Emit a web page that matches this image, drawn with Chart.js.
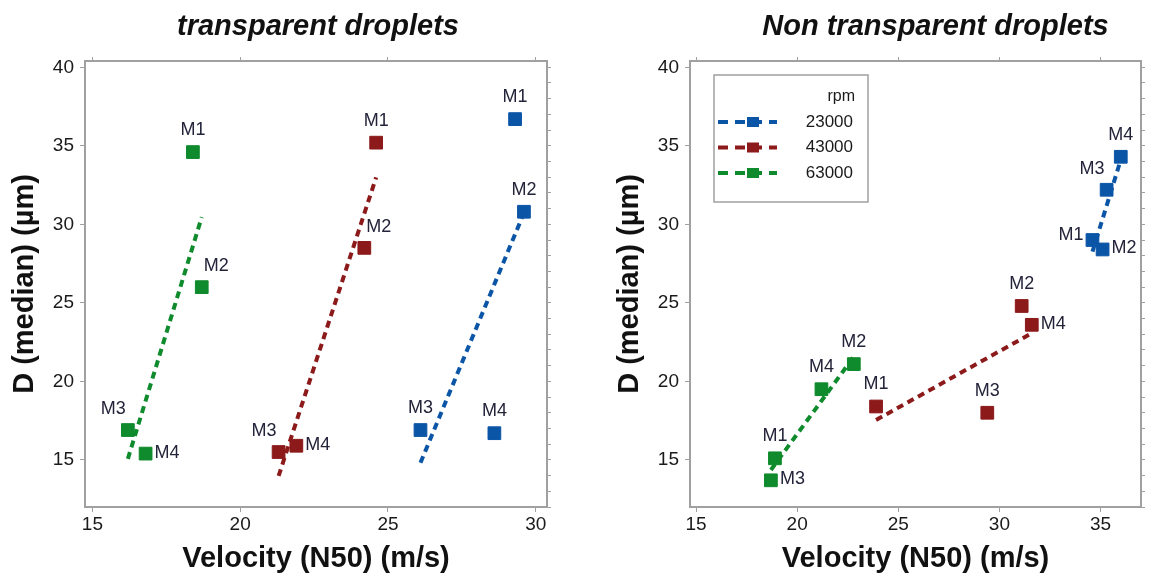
<!DOCTYPE html>
<html>
<head>
<meta charset="utf-8">
<script src="https://cdn.jsdelivr.net/npm/chart.js@4.4.1/dist/chart.umd.min.js"></script>
<style>
  html, body { margin: 0; padding: 0; background: #fff; }
  body { width: 1151px; height: 577px; position: relative; overflow: hidden; }
  .box { position: absolute; top: 0; height: 577px; }
  #boxLeft { left: 0; width: 575px; }
  #boxRight { left: 605px; width: 546px; }
</style>
</head>
<body>
<div class="box" id="boxLeft"><canvas id="chartLeft"></canvas></div>
<div class="box" id="boxRight"><canvas id="chartRight"></canvas></div>
<script>
"use strict";

const pointNames = ['M1', 'M2', 'M3', 'M4'];
const rpmLabels = ['23000', '43000', '63000'];
const rpmColors = ['#0b55a7', '#8c1a1a', '#0f8a2c'];

// transparent droplets
const transVel23000 = [29.3, 29.6, 26.1, 28.6];
const transD23000   = [36.7, 30.8, 16.9, 16.7];
const transVel43000 = [24.6, 24.2, 21.3, 21.9];
const transD43000   = [35.2, 28.5, 15.5, 15.9];
const transVel63000 = [18.4, 18.7, 16.2, 16.8];
const transD63000   = [34.6, 26.0, 16.9, 15.4];

// non transparent droplets
const nonVel23000 = [34.6, 35.1, 35.3, 36.0];
const nonD23000   = [29.0, 28.4, 32.2, 34.3];
const nonVel43000 = [23.9, 31.1, 29.4, 31.6];
const nonD43000   = [18.4, 24.8, 18.0, 23.6];
const nonVel63000 = [18.9, 22.8, 18.7, 21.2];
const nonD63000   = [15.1, 21.1, 13.7, 19.5];

const xTicksLeft = [15, 20, 25, 30];
const xTicksRight = [15, 20, 25, 30, 35];
const yTicks = [15, 20, 25, 30, 35, 40];

// where each M label sits around its point
const transPlace23000 = ['top', 'top', 'top', 'top'];
const transPlace43000 = ['top', 'topright', 'topleft', 'right'];
const transPlace63000 = ['top', 'topright', 'topleft', 'right'];
const nonPlace23000 = ['left', 'right', 'topleft', 'top'];
const nonPlace43000 = ['top', 'top', 'top', 'right'];
const nonPlace63000 = ['top', 'top', 'right', 'top'];

const FONT = '"Liberation Sans", Arial, sans-serif';
const TEXT = '#1a1a1a';
const FRAME = '#a0a0a0';

Chart.defaults.font.family = FONT;

const labelOffsets = {
  top:      { dx: 0,  dy: -22, align: 'center' },
  right:    { dx: 9,  dy: -1,  align: 'left' },
  left:     { dx: -9, dy: -5,  align: 'right' },
  topright: { dx: 2,  dy: -21, align: 'left' },
  topleft:  { dx: -2, dy: -21, align: 'right' }
};

// least squares line over the x range of the points
const fitLine = (xs, ys) => {
  const n = xs.length;
  const mx = xs.reduce((a, b) => a + b, 0) / n;
  const my = ys.reduce((a, b) => a + b, 0) / n;
  let sxy = 0, sxx = 0;
  xs.forEach((x, i) => { sxy += (x - mx) * (ys[i] - my); sxx += (x - mx) ** 2; });
  const slope = sxy / sxx;
  const x0 = Math.min(...xs), x1 = Math.max(...xs);
  return [{ x: x0, y: my + slope * (x0 - mx) }, { x: x1, y: my + slope * (x1 - mx) }];
};

const pointLabels = {
  id: 'pointLabels',
  afterDatasetsDraw(chart) {
    const ctx = chart.ctx;
    ctx.save();
    ctx.font = '18px ' + FONT;
    ctx.fillStyle = '#23233a';
    ctx.textBaseline = 'middle';
    chart.data.datasets.forEach((ds, i) => {
      if (!ds.names) return;
      chart.getDatasetMeta(i).data.forEach((pt, j) => {
        const o = labelOffsets[ds.place[j]];
        ctx.textAlign = o.align;
        ctx.fillText(ds.names[j], pt.x + o.dx, pt.y + o.dy);
      });
    });
    ctx.restore();
  }
};

const plotTitle = {
  id: 'plotTitle',
  afterDraw(chart, args, opts) {
    const { ctx, chartArea } = chart;
    ctx.save();
    ctx.font = 'italic bold 29px ' + FONT;
    ctx.fillStyle = '#111';
    ctx.textAlign = 'center';
    ctx.textBaseline = 'middle';
    ctx.fillText(opts.text, (chartArea.left + chartArea.right) / 2 + opts.shift, 27);
    ctx.restore();
  }
};

const rpmLegend = {
  id: 'rpmLegend',
  afterDraw(chart, args, opts) {
    if (!opts.show) return;
    const { ctx, chartArea } = chart;
    const bx = chartArea.left + 24, by = chartArea.top + 14;
    ctx.save();
    ctx.strokeStyle = FRAME;
    ctx.lineWidth = 1.5;
    ctx.strokeRect(bx, by, 154, 127);
    ctx.fillStyle = TEXT;
    ctx.font = '16px ' + FONT;
    ctx.textAlign = 'right';
    ctx.textBaseline = 'middle';
    ctx.fillText('rpm', bx + 141, by + 22);
    rpmLabels.forEach((lab, k) => {
      const y = by + 47 + k * 25.5;
      ctx.strokeStyle = rpmColors[k];
      ctx.lineWidth = 4;
      ctx.setLineDash([10, 7]);
      ctx.beginPath();
      ctx.moveTo(bx + 4, y);
      ctx.lineTo(bx + 63, y);
      ctx.stroke();
      ctx.setLineDash([]);
      ctx.fillStyle = rpmColors[k];
      ctx.fillRect(bx + 33, y - 5, 12, 10);
      ctx.fillStyle = TEXT;
      ctx.font = '17px ' + FONT;
      ctx.fillText(lab, bx + 139, y);
    });
    ctx.restore();
  }
};

const gridOpts = (len) => ({ drawOnChartArea: false, drawTicks: true, tickLength: len, color: FRAME, lineWidth: 1 });
const borderOpts = { display: true, color: FRAME, width: 2 };

const buildChart = (canvasId, title, titleShift, series, xMin, xMax, xTicks, rightWidth, showLegend) => {
  const yMin = 12, yMax = 40.4;
  const datasets = [];
  series.forEach(({ vel, d, place }, k) => {
    datasets.push({
      data: fitLine(vel, d),
      showLine: true,
      borderColor: rpmColors[k],
      borderWidth: 4,
      borderDash: [7, 5],
      pointRadius: 0,
      order: 2
    });
    datasets.push({
      data: vel.map((x, i) => ({ x, y: d[i] })),
      pointStyle: 'rect',
      pointRadius: 9,
      backgroundColor: rpmColors[k],
      borderColor: rpmColors[k],
      borderWidth: 1,
      names: pointNames,
      place,
      order: 1
    });
  });

  const minorTicks = [];
  for (let v = Math.ceil(yMin); v <= yMax; v++) minorTicks.push({ value: v });

  return new Chart(document.getElementById(canvasId), {
    type: 'scatter',
    data: { datasets },
    options: {
      responsive: true,
      maintainAspectRatio: false,
      animation: false,
      layout: { padding: 0 },
      plugins: {
        legend: { display: false },
        tooltip: { enabled: false },
        plotTitle: { text: title, shift: titleShift },
        rpmLegend: { show: showLegend }
      },
      scales: {
        x: {
          type: 'linear', position: 'bottom', min: xMin, max: xMax,
          afterBuildTicks: (a) => { a.ticks = xTicks.map(v => ({ value: v })); },
          afterFit: (a) => { a.height = 70; },
          ticks: { font: { size: 19 }, color: TEXT, padding: 1, maxRotation: 0, autoSkip: false },
          grid: gridOpts(5),
          border: borderOpts,
          title: { display: true, text: 'Velocity (N50) (m/s)', color: '#111',
                   font: { size: 29, weight: 'bold' }, padding: { top: 0, bottom: 1 } }
        },
        x2: {
          type: 'linear', position: 'top', min: xMin, max: xMax,
          afterBuildTicks: (a) => { a.ticks = xTicks.map(v => ({ value: v })); },
          afterFit: (a) => { a.height = 61; },
          ticks: { display: false },
          grid: gridOpts(4),
          border: borderOpts
        },
        y: {
          type: 'linear', position: 'left', min: yMin, max: yMax,
          afterBuildTicks: (a) => { a.ticks = yTicks.map(v => ({ value: v })); },
          afterFit: (a) => { a.width = 85; },
          ticks: { font: { size: 19 }, color: TEXT, padding: 6, autoSkip: false },
          grid: gridOpts(5),
          border: borderOpts,
          title: { display: true, text: 'D (median) (µm)', color: '#111',
                   font: { size: 29, weight: 'bold' }, padding: { top: 8, bottom: 0 } }
        },
        y2: {
          type: 'linear', position: 'right', min: yMin, max: yMax,
          afterBuildTicks: (a) => { a.ticks = minorTicks.slice(); },
          afterFit: (a) => { a.width = rightWidth; },
          ticks: { display: false, autoSkip: false },
          grid: gridOpts(4),
          border: borderOpts
        }
      }
    },
    plugins: [pointLabels, plotTitle, rpmLegend]
  });
};

buildChart('chartLeft', 'transparent droplets', 2, [
  { vel: transVel23000, d: transD23000, place: transPlace23000 },
  { vel: transVel43000, d: transD43000, place: transPlace43000 },
  { vel: transVel63000, d: transD63000, place: transPlace63000 }
], 14.75, 30.38, xTicksLeft, 28, false);

buildChart('chartRight', 'Non transparent droplets', 20, [
  { vel: nonVel23000, d: nonD23000, place: nonPlace23000 },
  { vel: nonVel43000, d: nonD43000, place: nonPlace43000 },
  { vel: nonVel63000, d: nonD63000, place: nonPlace63000 }
], 14.7, 37.0, xTicksRight, 6, true);
</script>
</body>
</html>
